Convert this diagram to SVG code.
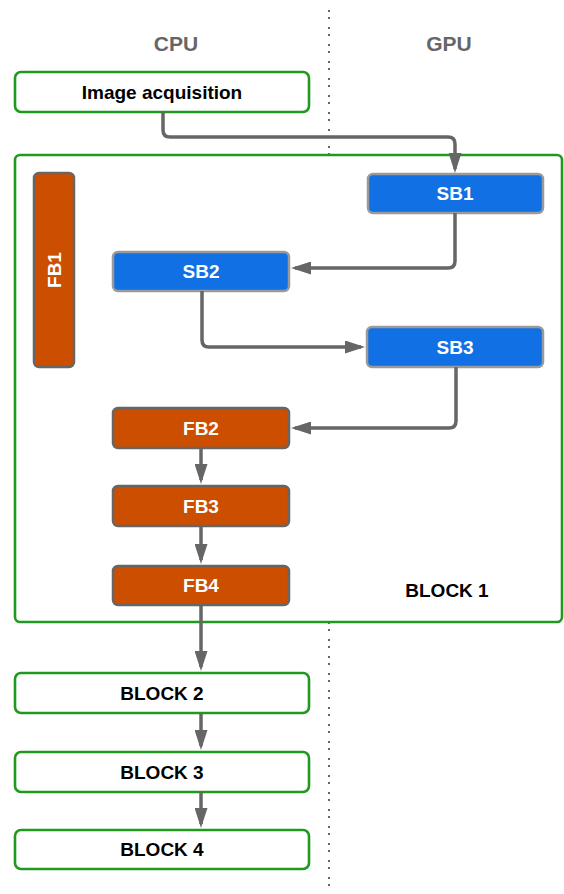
<svg xmlns="http://www.w3.org/2000/svg" width="564" height="894" viewBox="0 0 564 894">
  <style>
    text { font-family: "Liberation Sans", Arial, sans-serif; font-weight: bold; text-anchor: middle; }
    .lbl { font-size: 19px; fill: #000; }
    .lblw { font-size: 19px; fill: #fff; }
    .col { font-size: 21px; fill: #666; }
    .blk { fill: #fff; stroke: #1f9a1f; stroke-width: 2.6; }
    .sb { fill: #1170e3; stroke: #9a9a9a; stroke-width: 2.5; }
    .fb { fill: #cc4e00; stroke: #666; stroke-width: 2.5; }
    .edge { fill: none; stroke: #666; stroke-width: 3.5; marker-end: url(#arrow); }
    .divider { stroke: #666; stroke-width: 2; stroke-dasharray: 2 5 2 8; }
  </style>
  <defs>
    <marker id="arrow" viewBox="0 0 20 13" refX="16" refY="6.5" markerWidth="20" markerHeight="13" markerUnits="userSpaceOnUse" orient="auto">
      <path d="M0,0 L20,6.5 L0,13 z" fill="#666"/>
    </marker>
  </defs>

  <rect width="564" height="894" fill="#fff"/>

  <!-- CPU / GPU divider -->
  <line class="divider" x1="329" y1="10" x2="329" y2="894"/>
  <text class="col" x="176" y="51">CPU</text>
  <text class="col" x="449" y="51">GPU</text>

  <!-- container -->
  <g id="block1">
    <rect class="blk" x="15" y="155" width="547" height="467" rx="5"/>
    <text class="lbl" x="447" y="597">BLOCK 1</text>
  </g>

  <g id="image-acquisition">
    <rect class="blk" x="15" y="72" width="294" height="40" rx="6"/>
    <text class="lbl" x="162" y="99">Image acquisition</text>
  </g>

  <g id="fb1">
    <rect class="fb" x="34" y="173" width="40" height="194" rx="5"/>
    <text class="lblw" transform="translate(61,270) rotate(-90)" x="0" y="0">FB1</text>
  </g>

  <g id="sb1">
    <rect class="sb" x="368" y="174" width="175" height="39" rx="5"/>
    <text class="lblw" x="455" y="200">SB1</text>
  </g>

  <g id="sb2">
    <rect class="sb" x="113" y="252" width="176" height="39" rx="5"/>
    <text class="lblw" x="201" y="278">SB2</text>
  </g>

  <g id="sb3">
    <rect class="sb" x="367" y="327" width="176" height="40" rx="5"/>
    <text class="lblw" x="455" y="354">SB3</text>
  </g>

  <g id="fb2">
    <rect class="fb" x="113" y="408" width="176" height="40" rx="5"/>
    <text class="lblw" x="201" y="435">FB2</text>
  </g>

  <g id="fb3">
    <rect class="fb" x="113" y="486" width="176" height="40" rx="5"/>
    <text class="lblw" x="201" y="513">FB3</text>
  </g>

  <g id="fb4">
    <rect class="fb" x="113" y="566" width="176" height="39" rx="5"/>
    <text class="lblw" x="201" y="592">FB4</text>
  </g>

  <g id="block2">
    <rect class="blk" x="15" y="673" width="294" height="40" rx="6"/>
    <text class="lbl" x="162" y="700">BLOCK 2</text>
  </g>

  <g id="block3">
    <rect class="blk" x="15" y="752" width="294" height="40" rx="6"/>
    <text class="lbl" x="162" y="779">BLOCK 3</text>
  </g>

  <g id="block4">
    <rect class="blk" x="15" y="830" width="294" height="39" rx="6"/>
    <text class="lbl" x="162" y="856">BLOCK 4</text>
  </g>

  <!-- connectors -->
  <g id="connectors">
    <path class="edge" d="M163,112 V130 Q163,137 170,137 H448 Q455,137 455,144 V169"/>
    <path class="edge" d="M455,213 V261 Q455,268 448,268 H295"/>
    <path class="edge" d="M202,291 V340 Q202,347 209,347 H361"/>
    <path class="edge" d="M456,367 V421 Q456,428 449,428 H295"/>
    <path class="edge" d="M201,448 V480"/>
    <path class="edge" d="M201,526 V560"/>
    <path class="edge" d="M201,605 V667"/>
    <path class="edge" d="M201,713 V746"/>
    <path class="edge" d="M201,792 V824"/>
  </g>
</svg>
